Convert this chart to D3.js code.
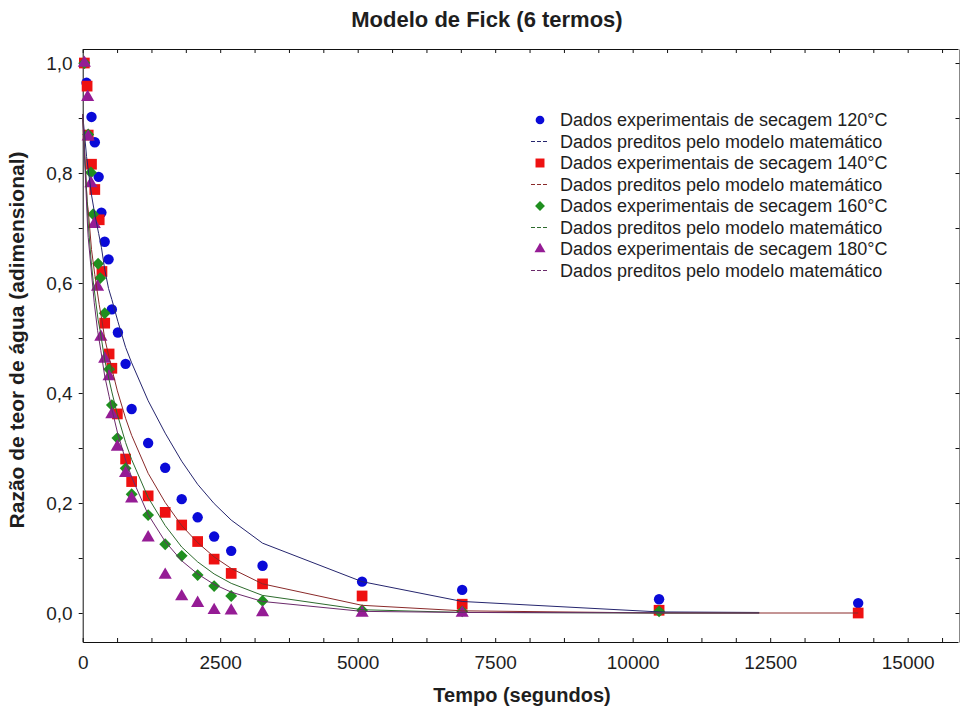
<!DOCTYPE html>
<html>
<head>
<meta charset="utf-8">
<script src="https://cdn.jsdelivr.net/npm/d3@7"></script>
<style>
	body { margin: 0; background: #fff; }
	text { font-family: Arial, 'Liberation Sans', sans-serif; fill: #1e1e1e; }
</style>
</head>
<body>
<script>
'use strict';

// experimental points: tempo (s) and razão de teor de água
var tempo120 = [30, 70, 160, 220, 290, 340, 400, 470, 530, 640, 780, 890, 1190, 1500, 1800, 2090, 2390, 2700, 3270, 5080, 6900, 10480, 14100],
	mr120 = [1.0, 0.964, 0.902, 0.856, 0.793, 0.728, 0.675, 0.643, 0.552, 0.510, 0.453, 0.371, 0.309, 0.264, 0.207, 0.174, 0.139, 0.113, 0.086, 0.057, 0.042, 0.025, 0.018],

	tempo140 = [30, 80, 100, 160, 220, 300, 350, 400, 480, 530, 630, 780, 890, 1190, 1500, 1800, 2090, 2390, 2700, 3270, 5080, 6900, 10480, 14100],
	mr140 = [1.0, 0.958, 0.869, 0.816, 0.770, 0.715, 0.621, 0.527, 0.471, 0.445, 0.362, 0.280, 0.239, 0.213, 0.183, 0.160, 0.130, 0.098, 0.072, 0.053, 0.031, 0.016, 0.005, 0.0],

	tempo160 = [30, 100, 150, 190, 280, 320, 400, 480, 530, 630, 780, 890, 1190, 1500, 1800, 2090, 2390, 2700, 3270, 5080, 6900, 10480],
	mr160 = [1.0, 0.87, 0.801, 0.725, 0.635, 0.609, 0.545, 0.443, 0.378, 0.318, 0.263, 0.216, 0.178, 0.125, 0.104, 0.069, 0.049, 0.031, 0.022, 0.005, 0.003, 0.003],

	tempo180 = [30, 90, 100, 150, 210, 270, 330, 400, 480, 530, 630, 780, 890, 1190, 1500, 1800, 2090, 2390, 2700, 3270, 5080, 6900],
	mr180 = [1.0, 0.938, 0.866, 0.781, 0.707, 0.593, 0.502, 0.462, 0.430, 0.361, 0.302, 0.254, 0.208, 0.137, 0.069, 0.030, 0.018, 0.005, 0.004, 0.001, 0.0, 0.0];

// values predicted by the model (lines)
var predTempo120 = [0, 70, 160, 220, 290, 340, 400, 470, 530, 640, 780, 890, 1190, 1500, 1800, 2090, 2390, 2700, 3270, 5080, 6900, 10480, 12300],
	pred120 = [0.907, 0.83, 0.76, 0.725, 0.69, 0.665, 0.625, 0.59, 0.57, 0.53, 0.483, 0.455, 0.386, 0.327, 0.276, 0.234, 0.199, 0.169, 0.127, 0.057, 0.021, 0.002, 0.001],

	predTempo140 = [0, 80, 100, 160, 220, 300, 350, 400, 480, 530, 630, 780, 890, 1190, 1500, 1800, 2090, 2390, 2700, 3270, 5080, 6900, 10480, 14100],
	pred140 = [0.907, 0.748, 0.733, 0.661, 0.615, 0.561, 0.532, 0.499, 0.465, 0.444, 0.404, 0.354, 0.323, 0.254, 0.201, 0.159, 0.128, 0.102, 0.081, 0.053, 0.014, 0.004, 0.0, 0.0],

	predTempo160 = [0, 100, 150, 190, 280, 320, 400, 480, 530, 630, 780, 890, 1190, 1500, 1800, 2090, 2390, 2700, 3270, 5080, 6900, 10480, 12300],
	pred160 = [0.907, 0.709, 0.644, 0.604, 0.533, 0.512, 0.460, 0.424, 0.402, 0.361, 0.310, 0.279, 0.210, 0.159, 0.120, 0.093, 0.071, 0.054, 0.032, 0.006, 0.001, 0.0, 0.0],

	predTempo180 = [0, 90, 100, 150, 210, 270, 330, 400, 480, 530, 630, 780, 890, 1190, 1500, 1800, 2090, 2390, 2700, 3270, 5080, 6900, 12300],
	pred180 = [0.907, 0.700, 0.683, 0.629, 0.564, 0.514, 0.477, 0.431, 0.394, 0.371, 0.329, 0.278, 0.247, 0.179, 0.130, 0.095, 0.071, 0.052, 0.038, 0.021, 0.003, 0.001, 0.0];

// ticks and texts
var xTicks = [0, 2500, 5000, 7500, 10000, 12500, 15000],
	yTicks = [0, 0.2, 0.4, 0.6, 0.8, 1.0],
	temperaturas = ['120°C', '140°C', '160°C', '180°C'],
	labelExp = 'Dados experimentais de secagem ',
	labelPred = 'Dados preditos pelo modelo matemático';

var pointColors = ['#0a0ad8', '#ee1111', '#1f8f1f', '#951c95'],
	lineColors = ['#25256e', '#8a2a2a', '#2d6b2d', '#6b2a6b'],
	shapes = ['circle', 'square', 'diamond', 'triangle'];

var width = 960, height = 713,
	x = d3.scaleLinear().domain([0, 15915]).range([82.7, 958]),
	y = d3.scaleLinear().domain([-0.0527, 1.0255]).range([642, 49]);

var svg = d3.select('body').append('svg')
	.attr('width', width)
	.attr('height', height);

var commaFormat = function(d) { return d3.format('.1f')(d).replace('.', ','); };

makeAxis();
makeSeries();
drawLegend();
makeTitles();

/*
* Frame with axis on all four sides, minor ticks every 625 s and 0,1.
*/
function makeAxis() {
	var xMinor = d3.range(0, 15901, 625),
		yMinor = d3.range(0, 11).map(function(i) { return i / 10; });

	svg.append('g')
		.attr('class', 'axis')
		.attr('transform', 'translate(0,642)')
		.call(d3.axisBottom(x).tickValues(xMinor).tickSize(-4).tickSizeOuter(0).tickPadding(14)
			.tickFormat(function(d) { return xTicks.indexOf(d) > -1 ? d : ''; }));

	svg.append('g')
		.attr('class', 'axis')
		.attr('transform', 'translate(0,49)')
		.call(d3.axisTop(x).tickValues(xMinor).tickSize(-4).tickSizeOuter(0).tickFormat(''));

	svg.append('g')
		.attr('class', 'axis')
		.attr('transform', 'translate(82.7,0)')
		.call(d3.axisLeft(y).tickValues(yMinor).tickSize(4).tickSizeOuter(0).tickPadding(6)
			.tickFormat(function(d) {
				return yTicks.some(function(t) { return Math.abs(t - d) < 1e-6; }) ? commaFormat(d) : '';
			}));

	// right side sits on the very edge of the picture
	svg.append('g')
		.attr('class', 'axis')
		.attr('transform', 'translate(959.5,0)')
		.call(d3.axisRight(y).tickValues(yMinor).tickSize(-4).tickSizeOuter(0).tickFormat(''));

	svg.selectAll('.axis path, .axis line')
		.attr('stroke', '#111')
		.attr('stroke-width', 1);

	svg.selectAll('.axis text')
		.attr('font-size', 19)
		.attr('font-family', 'Arial, Liberation Sans, sans-serif')
		.attr('fill', '#1e1e1e');
}

function symbolFor(shape, big) {
	var k = big ? 1 : 0.7;
	if (shape == 'circle') return d3.symbol().type(d3.symbolCircle).size(85 * k)();
	if (shape == 'square') return d3.symbol().type(d3.symbolSquare).size(115 * k)();
	if (shape == 'diamond') return d3.symbol().type(d3.symbolSquare).size(70 * k)();
	return d3.symbol().type(d3.symbolTriangle).size(75 * k)();
}

/*
* Points and model lines, one series at a time.
*/
function makeSeries() {
	var tempos = [tempo120, tempo140, tempo160, tempo180],
		valores = [mr120, mr140, mr160, mr180],
		predTempos = [predTempo120, predTempo140, predTempo160, predTempo180],
		preds = [pred120, pred140, pred160, pred180];

	var line = d3.line()
		.x(function(d) { return x(d[0]); })
		.y(function(d) { return y(d[1]); });

	for (var i = 0; i < 4; i++) {
		var pts = d3.zip(tempos[i], valores[i]);

		svg.append('g').selectAll('path')
			.data(pts).enter()
			.append('path')
				.attr('d', symbolFor(shapes[i], true))
				.attr('fill', pointColors[i])
				.attr('transform', function(d) {
					var r = shapes[i] == 'diamond' ? ' rotate(45)' : '';
					return 'translate(' + x(d[0]) + ',' + y(d[1]) + ')' + r;
				});
	}

	for (var j = 0; j < 4; j++) {
		svg.append('path')
			.datum(d3.zip(predTempos[j], preds[j]))
			.attr('fill', 'none')
			.attr('stroke', lineColors[j])
			.attr('stroke-width', 1)
			.attr('d', line);
	}
}

/*
* Legend: a marker row and a dashed line row per temperature.
*/
function drawLegend() {
	var rows = [];
	temperaturas.forEach(function(t, i) {
		rows.push({kind: 'point', i: i, text: labelExp + t});
		rows.push({kind: 'line', i: i, text: labelPred});
	});

	var legend = svg.selectAll('.legend')
		.data(rows).enter()
		.append('g')
			.attr('class', 'legend')
			.attr('transform', function(d, i) { return 'translate(0,' + (120 + i * 21.5) + ')'; });

	legend.filter(function(d) { return d.kind == 'point'; })
		.append('path')
			.attr('d', function(d) { return symbolFor(shapes[d.i], false); })
			.attr('fill', function(d) { return pointColors[d.i]; })
			.attr('transform', function(d) {
				return 'translate(540,0)' + (shapes[d.i] == 'diamond' ? ' rotate(45)' : '');
			});

	legend.filter(function(d) { return d.kind == 'line'; })
		.append('line')
			.attr('x1', 531)
			.attr('x2', 549)
			.attr('stroke', function(d) { return lineColors[d.i]; })
			.attr('stroke-dasharray', '4,2');

	legend.append('text')
		.attr('x', 560)
		.attr('dy', '0.35em')
		.attr('font-size', 18)
		.text(function(d) { return d.text; });
}

function makeTitles() {
	svg.append('text')
		.attr('x', 487)
		.attr('y', 27)
		.attr('text-anchor', 'middle')
		.attr('font-size', 22)
		.attr('font-weight', 'bold')
		.text('Modelo de Fick (6 termos)');

	svg.append('text')
		.attr('x', 522)
		.attr('y', 702)
		.attr('text-anchor', 'middle')
		.attr('font-size', 20)
		.attr('font-weight', 'bold')
		.text('Tempo (segundos)');

	svg.append('text')
		.attr('transform', 'translate(24,340) rotate(-90)')
		.attr('text-anchor', 'middle')
		.attr('font-size', 21)
		.attr('font-weight', 'bold')
		.text('Razão de teor de água (adimensional)');
}
</script>
</body>
</html>
